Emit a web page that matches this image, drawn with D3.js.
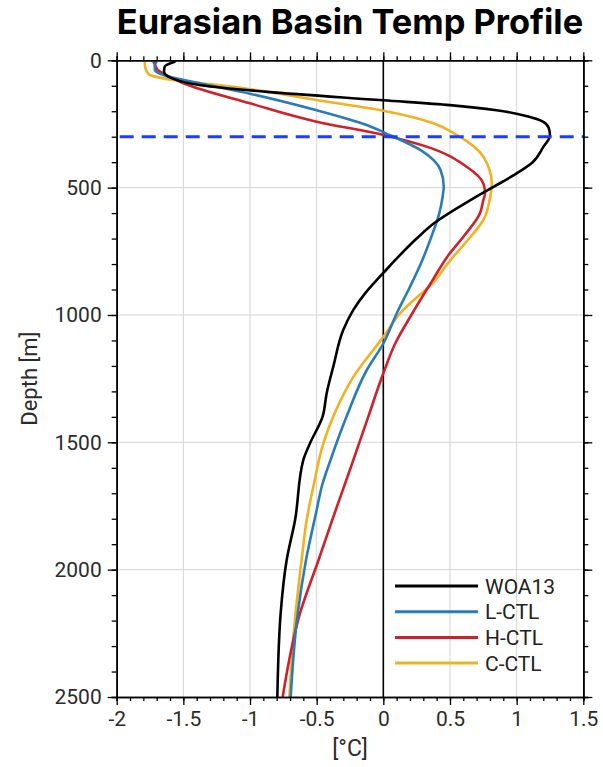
<!DOCTYPE html>
<html>
<head>
<meta charset="utf-8">
<script src="https://cdn.jsdelivr.net/npm/d3@7"></script>
<style>
  body { margin: 0; background: #fff; }
  text { font-family: Roboto, "Liberation Sans", sans-serif; }
</style>
</head>
<body>
<div id="plot"></div>
<script>
// depth [m] / temperature [°C]
let woaDepth = [5, 25, 45, 72, 98, 124, 157, 176, 196, 220, 242, 265, 295, 340, 400, 444, 496, 550, 640, 700, 784, 835, 863, 915, 980, 1058, 1202, 1307, 1398, 1504, 1569, 1805, 1962, 2171, 2500]
let woaTemp = [-1.56, -1.64, -1.645, -1.58, -1.37, -0.87, 0.0, 0.5, 0.85, 1.08, 1.2, 1.24, 1.25, 1.2, 1.12, 1.0, 0.83, 0.65, 0.38, 0.25, 0.09, 0.0, -0.05, -0.137, -0.225, -0.3, -0.375, -0.425, -0.455, -0.55, -0.6, -0.662, -0.725, -0.77, -0.795]

let lDepth = [5, 20, 39, 58, 91, 131, 196, 255, 294, 353, 432, 496, 550, 600, 700, 800, 900, 994, 1112, 1217, 1398, 1556, 1674, 1766, 1962, 2184, 2500]
let lTemp = [-1.7, -1.715, -1.713, -1.65, -1.37, -1.0, -0.5, -0.12, 0.05, 0.28, 0.43, 0.453, 0.44, 0.42, 0.355, 0.28, 0.19, 0.1, 0.0, -0.125, -0.275, -0.387, -0.462, -0.5, -0.58, -0.645, -0.695]

let hDepth = [5, 20, 39, 60, 90, 169, 241, 293, 339, 418, 483, 522, 549, 601, 693, 771, 863, 1000, 1111, 1229, 1398, 1600, 1800, 1962, 2171, 2500]
let hTemp = [-1.725, -1.71, -1.69, -1.62, -1.5, -1.0, -0.5, 0.0, 0.325, 0.625, 0.75, 0.763, 0.75, 0.725, 0.6, 0.48, 0.37, 0.21, 0.09, 0.0, -0.112, -0.245, -0.38, -0.486, -0.625, -0.755]

let cDepth = [5, 30, 55, 71, 104, 156, 198, 247, 293, 378, 483, 541, 627, 680, 732, 800, 863, 994, 1086, 1243, 1398, 1504, 1674, 1805, 1962, 2197, 2500]
let cTemp = [-1.79, -1.785, -1.76, -1.65, -1.125, -0.5, 0.0, 0.375, 0.55, 0.75, 0.813, 0.8, 0.75, 0.675, 0.59, 0.48, 0.39, 0.125, 0.0, -0.225, -0.375, -0.45, -0.525, -0.575, -0.613, -0.663, -0.705]

let seriesNames = ['WOA13', 'L-CTL', 'H-CTL', 'C-CTL']
let seriesColors = ['#000000', '#2a7bba', '#d0202a', '#f2b11f']

let xTicks = [-2, -1.5, -1, -0.5, 0, 0.5, 1, 1.5]
let xTickLabels = ['-2', '-1.5', '-1', '-0.5', '0', '0.5', '1', '1.5']
let yTicks = [0, 500, 1000, 1500, 2000, 2500]
let mixedLayerDepth = 300

let series = [
  {depth: woaDepth, temp: woaTemp},
  {depth: lDepth, temp: lTemp},
  {depth: hDepth, temp: hTemp},
  {depth: cDepth, temp: cTemp}
]

let W = 603, H = 767
let pLeft = 116.7, pRight = 583.3, pTop = 60.3, pBottom = 697

let svg = d3.select('#plot').append('svg')
.attr('width', W)
.attr('height', H)

let x = d3.scaleLinear().domain([-2, 1.5]).range([pLeft, pRight])
let y = d3.scaleLinear().domain([0, 2500]).range([pTop, pBottom])

let minorX = d3.range(-20, 16).map(d => d / 10)
let minorY = d3.range(0, 26).map(d => d * 100)

// grid
svg.append('g')
.selectAll('line')
.data(xTicks.slice(1, -1))
.enter().append('line')
.attr('x1', d => x(d)).attr('x2', d => x(d))
.attr('y1', pTop).attr('y2', pBottom)
.attr('stroke', '#d4d4d4')
.attr('stroke-width', 1)

svg.append('g')
.selectAll('line')
.data(yTicks.slice(1, -1))
.enter().append('line')
.attr('x1', pLeft).attr('x2', pRight)
.attr('y1', d => y(d)).attr('y2', d => y(d))
.attr('stroke', '#d4d4d4')
.attr('stroke-width', 1)

// zero line
svg.append('line')
.attr('x1', x(0)).attr('x2', x(0))
.attr('y1', pTop).attr('y2', pBottom)
.attr('stroke', 'black')
.attr('stroke-width', 1.6)

let line = d3.line()
.x(d => x(d[1]))
.y(d => y(d[0]))
.curve(d3.curveMonotoneY)

svg.append('clipPath').attr('id', 'clip')
.append('rect')
.attr('x', pLeft).attr('y', pTop)
.attr('width', pRight - pLeft).attr('height', pBottom - pTop)

// draw WOA13 last so it sits on top like the original
let order = [3, 2, 1, 0]
order.forEach(function(i) {
  let pts = series[i].depth.map((d, j) => [d, series[i].temp[j]])
  svg.append('path')
  .attr('d', line(pts))
  .attr('fill', 'none')
  .attr('stroke', seriesColors[i])
  .attr('stroke-width', 2.6)
  .attr('stroke-linejoin', 'round')
  .attr('clip-path', 'url(#clip)')
})

// dashed reference depth
svg.append('line')
.attr('x1', pLeft + 3).attr('x2', pRight)
.attr('y1', y(mixedLayerDepth)).attr('y2', y(mixedLayerDepth))
.attr('stroke', '#1a3dff')
.attr('stroke-width', 3)
.attr('stroke-dasharray', '14,8')

function styleAxis(g) {
  g.select('.domain').attr('stroke', 'black').attr('stroke-width', 1.6)
  g.selectAll('.tick line').attr('stroke', 'black').attr('stroke-width', 1.3)
  g.selectAll('.tick text')
  .attr('fill', '#2b2b2b')
  .style('font-size', '21px')
  .style('font-family', 'Roboto, sans-serif')
}

// bottom
svg.append('g')
.attr('transform', 'translate(0,' + pBottom + ')')
.call(d3.axisBottom(x).tickValues(minorX).tickSize(4).tickFormat(''))
.call(styleAxis)
svg.append('g')
.attr('transform', 'translate(0,' + pBottom + ')')
.call(d3.axisBottom(x).tickValues(xTicks).tickSize(8).tickPadding(6).tickSizeOuter(0).tickFormat((d, i) => xTickLabels[i]))
.call(styleAxis)

// top
svg.append('g')
.attr('transform', 'translate(0,' + pTop + ')')
.call(d3.axisTop(x).tickValues(minorX).tickSize(4).tickFormat(''))
.call(styleAxis)
svg.append('g')
.attr('transform', 'translate(0,' + pTop + ')')
.call(d3.axisTop(x).tickValues(xTicks).tickSize(8).tickSizeOuter(0).tickFormat(''))
.call(styleAxis)

// left
svg.append('g')
.attr('transform', 'translate(' + pLeft + ',0)')
.call(d3.axisLeft(y).tickValues(minorY).tickSize(5).tickFormat(''))
.call(styleAxis)
svg.append('g')
.attr('transform', 'translate(' + pLeft + ',0)')
.call(d3.axisLeft(y).tickValues(yTicks).tickSize(9).tickPadding(6).tickSizeOuter(0).tickFormat(d3.format('d')))
.call(styleAxis)

// right
svg.append('g')
.attr('transform', 'translate(' + pRight + ',0)')
.call(d3.axisRight(y).tickValues(minorY).tickSize(5).tickFormat(''))
.call(styleAxis)
svg.append('g')
.attr('transform', 'translate(' + pRight + ',0)')
.call(d3.axisRight(y).tickValues(yTicks).tickSize(9).tickSizeOuter(0).tickFormat(''))
.call(styleAxis)

// title, sized so it spans the plot width like the original
let title = svg.append('text')
.attr('x', (pLeft + pRight) / 2)
.attr('y', 34)
.attr('text-anchor', 'middle')
.style('font-family', 'Inter, "Liberation Sans", Arial, sans-serif')
.style('font-weight', 'bold')
.style('font-size', '30px')
.text('Eurasian Basin Temp Profile')
let tw = title.node().getComputedTextLength()
title.style('font-size', (30 * (pRight - pLeft) / tw) + 'px')

svg.append('text')
.attr('x', (pLeft + pRight) / 2)
.attr('y', 756)
.attr('text-anchor', 'middle')
.attr('fill', '#2b2b2b')
.style('font-size', '23px')
.text('[°C]')

svg.append('text')
.attr('transform', 'translate(37,' + ((pTop + pBottom) / 2) + ') rotate(-90)')
.attr('text-anchor', 'middle')
.attr('fill', '#2b2b2b')
.style('font-size', '22px')
.text('Depth [m]')

// legend
let legend = svg.append('g')
seriesNames.forEach(function(name, i) {
  let ly = 586 + i * 25.7
  legend.append('line')
  .attr('x1', 395).attr('x2', 478)
  .attr('y1', ly).attr('y2', ly)
  .attr('stroke', seriesColors[i])
  .attr('stroke-width', 3)
  legend.append('text')
  .attr('x', 485)
  .attr('y', ly + 7.5)
  .attr('fill', '#222')
  .style('font-size', '21px')
  .text(name)
})
</script>
</body>
</html>
